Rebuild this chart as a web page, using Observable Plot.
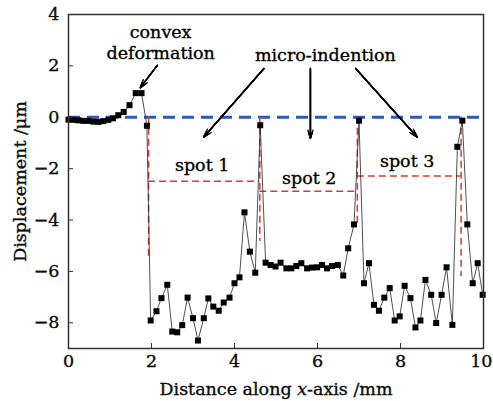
<!DOCTYPE html>
<html><head><meta charset="utf-8">
<script src="https://cdn.jsdelivr.net/npm/d3@7"></script>
<script src="https://cdn.jsdelivr.net/npm/@observablehq/plot@0.6"></script>
<style>body{margin:0;background:#fff} svg text{stroke:#000;stroke-width:0.35px}</style>
</head><body><div id="chart"></div>
<script>
const distance = [0,0.12,0.24,0.36,0.48,0.6,0.72,0.84,0.96,1.07,1.2,1.33,1.47,1.62,1.76,1.89,1.98,2.12,2.24,2.38,2.5,2.62,2.74,2.87,3.0,3.12,3.26,3.37,3.49,3.62,3.74,3.88,4.0,4.12,4.24,4.37,4.5,4.62,4.75,4.87,4.99,5.11,5.25,5.37,5.49,5.61,5.75,5.87,5.99,6.11,6.23,6.35,6.49,6.62,6.74,6.88,7.0,7.12,7.24,7.36,7.48,7.61,7.74,7.86,7.98,8.1,8.24,8.36,8.48,8.6,8.74,8.86,8.99,9.11,9.25,9.37,9.49,9.61,9.74,9.86,9.98];
const displacement = [-0.09,-0.10,-0.12,-0.14,-0.14,-0.17,-0.18,-0.15,-0.10,-0.04,0.08,0.21,0.47,0.94,0.94,-0.33,-7.91,-7.55,-7.04,-6.52,-8.34,-8.37,-8.09,-7.02,-7.82,-8.69,-7.82,-7.05,-7.37,-7.53,-7.21,-7.02,-6.46,-6.23,-3.70,-5.23,-6.05,-0.31,-5.66,-5.75,-5.81,-5.66,-5.88,-5.88,-5.79,-5.68,-5.88,-5.85,-5.84,-5.75,-5.88,-5.79,-5.75,-6.16,-5.10,-4.17,-0.13,-6.46,-5.68,-7.30,-7.53,-7.02,-6.65,-7.91,-7.75,-6.56,-7.04,-8.18,-7.91,-6.33,-6.91,-8.01,-6.91,-5.84,-8.08,-1.15,-0.13,-4.17,-6.46,-5.68,-6.91];
const xTicks = [0,2,4,6,8,10];
const xTicksInner = [0,2,4,6,8];
const xTicksEdge = [10];
const yTicks = [4,2,0,-2,-4,-6,-8];
const spotX = [1.93,4.61,6.96,9.46];
const spotDropBottom = [-5.42,-4.84,-4.19,-6.2];
const spotLevelStart = [1.93,4.61,6.96];
const spotLevelEnd = [4.61,6.96,9.46];
const spotLevel = [-2.49,-2.88,-2.29];
const spotLabels = ["spot 1","spot 2","spot 3"];
const spotLabelX = [3.22,5.8,8.16];
const spotLabelY = [-1.86,-2.37,-1.73];
const noteLabels = ["convex","deformation","micro-indention"];
const noteX = [2.22,2.22,6.19];
const noteY = [3.31,2.47,2.41];
const arrowX1 = [2.14,4.71,5.83,6.92];
const arrowY1 = [2.02,1.90,1.90,1.90];
const arrowX2 = [1.73,3.26,5.83,8.40];
const arrowY2 = [1.15,-0.77,-0.82,-0.77];

const pts = distance.map((x,i)=>({x, y: displacement[i]}));
const drops = spotX.map((x,i)=>({x, y1: 0, y2: spotDropBottom[i]}));
const levels = spotLevel.map((y,i)=>({y, x1: spotLevelStart[i], x2: spotLevelEnd[i]}));
const spots = spotLabels.map((t,i)=>({t, x: spotLabelX[i], y: spotLabelY[i]}));
const notes = noteLabels.map((t,i)=>({t, x: noteX[i], y: noteY[i]}));
const arrows = arrowX1.map((x1,i)=>({x1, y1: arrowY1[i], x2: arrowX2[i], y2: arrowY2[i]}));
const FS = 17.5;
const headLengths = [10, 8, 6, 4, 2];

const svg = Plot.plot({
  width: 493, height: 401,
  marginLeft: 68, marginRight: 10, marginTop: 14, marginBottom: 53,
  style: {fontFamily: "DejaVu Serif", fontSize: FS + "px", color: "#111", background: "#fff"},
  x: {domain: [0,10]},
  y: {domain: [-9,4]},
  marks: [
    Plot.ruleY([0], {stroke: "#2b5bb8", strokeWidth: 3, strokeDasharray: "12,7"}),
    Plot.ruleX(drops, {x: "x", y1: "y1", y2: "y2", stroke: "#d93a33", strokeWidth: 1.5, strokeDasharray: "7,4"}),
    Plot.ruleY(levels, {y: "y", x1: "x1", x2: "x2", stroke: "#d93a33", strokeWidth: 1.5, strokeDasharray: "7,4"}),
    Plot.line(pts, {x: "x", y: "y", stroke: "#222", strokeWidth: 0.8}),
    Plot.dot(pts, {x: "x", y: "y", symbol: "square", r: 3.4, fill: "#000", stroke: "none"}),
    ...headLengths.map(h => Plot.arrow(arrows, {x1: "x1", y1: "y1", x2: "x2", y2: "y2", stroke: "#000", strokeWidth: 1.3, headLength: h, headAngle: 34})),
    Plot.text(spots, {x: "x", y: "y", text: "t", fontSize: FS, fill: "#000"}),
    Plot.text(notes, {x: "x", y: "y", text: "t", fontSize: FS, fill: "#000"}),
    Plot.axisX(xTicks, {tickSize: 5, dy: -5, text: null, stroke: "#333"}),
    Plot.axisX(xTicksInner, {tickSize: 0, tickPadding: 6, label: "Distance along x-axis /mm", labelAnchor: "center", labelArrow: "none", labelOffset: 46}),
    Plot.axisX(xTicksEdge, {tickSize: 0, tickPadding: 6, label: null, textAnchor: "end", dx: 9}),
    Plot.axisY(yTicks, {tickSize: 5, dx: 5, text: null, stroke: "#333"}),
    Plot.axisY(yTicks, {tickSize: 0, tickPadding: 9, label: "Displacement /μm", labelAnchor: "center", labelArrow: "none", labelOffset: 55}),
    Plot.frame({stroke: "#333", strokeWidth: 1.5})
  ]
});

const lab = svg.querySelector('[aria-label="x-axis label"] text');
if (lab) {
  const ns = "http://www.w3.org/2000/svg";
  lab.textContent = "";
  const parts = [["Distance along ", false], ["x", true], ["-axis /mm", false]];
  for (const [s, it] of parts) {
    const t = document.createElementNS(ns, "tspan");
    t.textContent = s;
    if (it) t.setAttribute("font-style", "italic");
    lab.appendChild(t);
  }
}
document.getElementById("chart").appendChild(svg);
</script>
</body></html>
